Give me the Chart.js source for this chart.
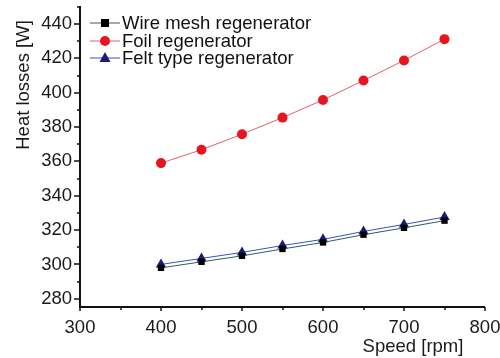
<!DOCTYPE html>
<html><head><meta charset="utf-8">
<script src="https://cdn.jsdelivr.net/npm/chart.js@4/dist/chart.umd.min.js"></script>
<style>html,body{margin:0;padding:0;background:#fff}#wrap{width:500px;height:358px}</style>
</head><body><div id="wrap"><canvas id="c" width="500" height="358"></canvas></div>
<script>
const speeds = [400, 450, 500, 550, 600, 650, 700, 750];
const wireMesh = [298, 301.5, 305, 309, 312.8, 317.3, 321.3, 325.5];
const foil = [359, 366.8, 375.8, 385.5, 395.8, 407.1, 418.8, 431.2];
const felt = [300, 303.5, 307, 311, 314.6, 319.2, 323.3, 327.6];
const xTicks = [300, 400, 500, 600, 700, 800];
const yTicks = [280, 300, 320, 340, 360, 380, 400, 420, 440];
const labels = ['Wire mesh regenerator', 'Foil regenerator', 'Felt type regenerator'];
const xTitle = 'Speed [rpm]';
const yTitle = 'Heat losses [W]';

const FONT = '"Liberation Sans", Arial, sans-serif';
function pts(v){return speeds.map((s,i)=>({x:s,y:v[i]}));}

const axisPlugin = {
  id:'axisDeco',
  afterDraw(chart){
    const ctx=chart.ctx, ca=chart.chartArea, xs=chart.scales.x, ys=chart.scales.y;
    ctx.save();
    ctx.strokeStyle='#111'; ctx.lineWidth=2;
    ctx.beginPath();
    ctx.moveTo(ca.left, ca.top); ctx.lineTo(ca.left, ca.bottom);
    ctx.lineTo(ca.right, ca.bottom); ctx.stroke();
    ctx.lineWidth=1.5;
    for(let v=280; v<=ys.max; v+=10){
      const y=Math.round(ys.getPixelForValue(v));
      const len = (v%20===0)?6:3;
      ctx.beginPath(); ctx.moveTo(ca.left-len, y); ctx.lineTo(ca.left, y); ctx.stroke();
    }
    for(let v=300; v<=800; v+=50){
      const x=Math.round(xs.getPixelForValue(v));
      const len = (v%100===0)?4:3;
      ctx.beginPath(); ctx.moveTo(x, ca.bottom); ctx.lineTo(x, ca.bottom+len); ctx.stroke();
    }
    ctx.fillStyle='#1a1a1a';
    ctx.font='18.5px '+FONT;
    ctx.textAlign='center'; ctx.textBaseline='middle';
    ctx.fillText(xTitle, 413, 347);
    ctx.save();
    ctx.translate(24, 85); ctx.rotate(-Math.PI/2);
    ctx.fillText(yTitle, 0, 0);
    ctx.restore();
    const rows=[23,41,58];
    chart.data.datasets.forEach((ds,i)=>{
      const y=rows[i];
      ctx.strokeStyle=ds.borderColor; ctx.lineWidth=1;
      ctx.beginPath(); ctx.moveTo(90,y); ctx.lineTo(120,y); ctx.stroke();
      ctx.fillStyle=ds.pointBackgroundColor;
      const cx=105;
      if(ds.pointStyle==='circle'){ctx.beginPath();ctx.arc(cx,y,5,0,Math.PI*2);ctx.fill();}
      else if(ds.pointStyle==='rect'){ctx.fillRect(cx-4,y-4,8,8);}
      else {ctx.beginPath();ctx.moveTo(cx,y-6);ctx.lineTo(cx+5.5,y+4);ctx.lineTo(cx-5.5,y+4);ctx.closePath();ctx.fill();}
      ctx.fillStyle='#111'; ctx.textAlign='left'; ctx.textBaseline='middle';
      ctx.font='18.5px '+FONT;
      ctx.fillText(ds.label, 122, y+1);
    });
    ctx.restore();
  }
};

new Chart(document.getElementById('c'), {
  type:'line',
  data:{datasets:[
    {label:labels[0], data:pts(wireMesh), borderColor:'#2f5f5a', borderWidth:1,
     pointStyle:'rect', pointRadius:4.5, pointBackgroundColor:'#000', pointBorderColor:'#000', pointBorderWidth:0},
    {label:labels[1], data:pts(foil), borderColor:'#e0606a', borderWidth:1,
     pointStyle:'circle', pointRadius:5, pointBackgroundColor:'#e8141e', pointBorderColor:'#e8141e', pointBorderWidth:0},
    {label:labels[2], data:pts(felt), borderColor:'#3a50c0', borderWidth:1,
     pointStyle:'triangle', pointRadius:6, pointBackgroundColor:'#1c1c78', pointBorderColor:'#1c1c78', pointBorderWidth:0}
  ]},
  options:{
    responsive:false, animation:false, devicePixelRatio:1,
    layout:{padding:{top:6,right:15,left:0,bottom:0}, autoPadding:false},
    plugins:{legend:{display:false}, tooltip:{enabled:false}},
    scales:{
      x:{type:'linear', min:300, max:800,
         afterBuildTicks(s){s.ticks=xTicks.map(v=>({value:v}));},
         afterFit(s){s.height=51; s.paddingRight=0; s.paddingLeft=0;},
         grid:{display:false, drawTicks:false},
         border:{display:false},
         ticks:{padding:10, color:'#1a1a1a', font:{family:FONT,size:18.5}, maxRotation:0, autoSkip:false}},
      y:{type:'linear', min:275.2, max:450.5,
         afterBuildTicks(s){s.ticks=yTicks.map(v=>({value:v}));},
         afterFit(s){s.width=80; s.paddingTop=0; s.paddingBottom=0;},
         grid:{display:false, drawTicks:false},
         border:{display:false},
         ticks:{padding:8, color:'#1a1a1a', font:{family:FONT,size:18.5}, autoSkip:false}}
    }
  },
  plugins:[axisPlugin]
});
</script></body></html>
